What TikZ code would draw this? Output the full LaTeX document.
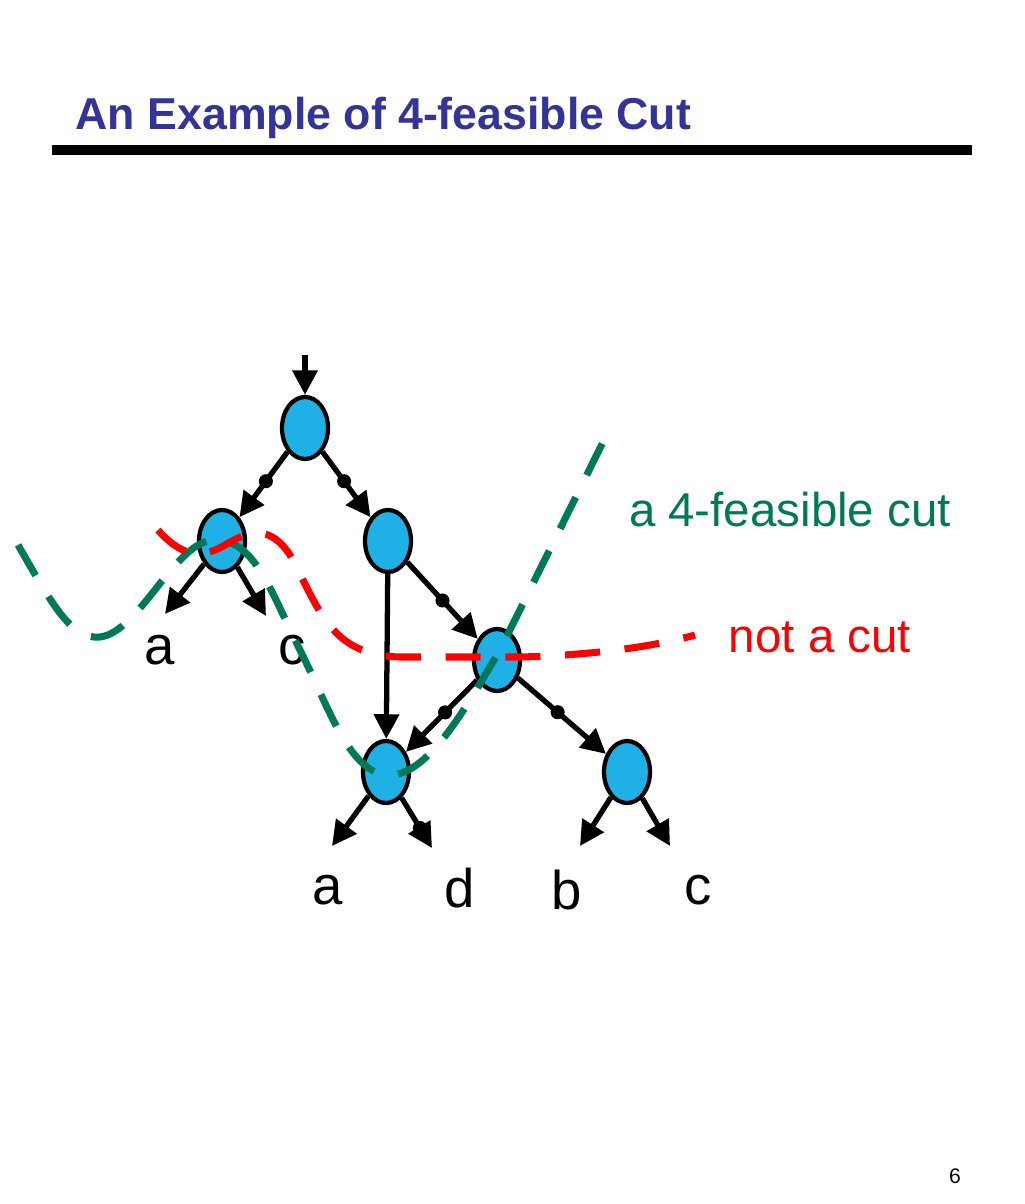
\documentclass[tikz,border=0pt]{standalone}
\usepackage{fontspec}
\setmainfont{Liberation Sans}
\usetikzlibrary{shapes.geometric,arrows.meta}
\definecolor{nodeblue}{HTML}{1FB0E6}
\definecolor{cutgreen}{HTML}{00795A}
\definecolor{titleblue}{HTML}{333399}
\begin{document}
\begin{tikzpicture}[x=0.01cm,y=-0.01cm,
  gate/.style={ellipse,draw=black,line width=1.2pt,fill=nodeblue,minimum width=0.46cm,minimum height=0.62cm,inner sep=0pt},
  edge/.style={line width=1.5pt,-{Triangle[length=7pt,width=7pt]}},
  dotmark/.style={circle,fill=black,inner sep=0pt,minimum size=4pt},
  lbl/.style={font=\fontsize{15.5}{18}\selectfont},
  cut/.style={line width=2pt,dash pattern=on 10pt off 7pt}]
\useasboundingbox (0,0) rectangle (1024,1204);
\node[anchor=base west,inner sep=0pt,font=\bfseries\fontsize{12.7}{15}\selectfont,text=titleblue] (title) at (75,130) {An Example of 4-feasible Cut};
\draw[line width=3pt] (52,150) -- (972,150);
\node[font=\fontsize{6}{7}\selectfont] (pg) at (955,1176) {6};

\node[gate] (n1) at (305,428) {};
\node[gate] (n2) at (222,541) {};
\node[gate] (n3) at (388,541) {};
\node[gate] (n4) at (497,660) {};
\node[gate] (n5) at (386,772) {};
\node[gate] (n6) at (627,772) {};
\coordinate (top) at (305,355);
\coordinate (l1) at (165,614);
\coordinate (l2) at (266,616);
\coordinate (l3) at (332,846);
\coordinate (l4) at (432,848);
\coordinate (l5) at (580,846);
\coordinate (l6) at (670,846);

\draw[edge] (top) -- (n1);
\draw[edge] (n1) -- (n2) node[dotmark,pos=0.45]{};
\draw[edge] (n1) -- (n3) node[dotmark,pos=0.45]{};
\draw[edge] (n2) -- (l1);
\draw[edge] (n2) -- (l2);
\draw[edge] (n3) -- (n5);
\draw[edge] (n3) -- (n4) node[dotmark,pos=0.5]{};
\draw[edge] (n4) -- (n5) node[dotmark,pos=0.45]{};
\draw[edge] (n4) -- (n6) node[dotmark,pos=0.45]{};
\draw[edge] (n5) -- (l3);
\draw[edge] (n5) -- (l4) node[dotmark,pos=0.6]{};
\draw[edge] (n6) -- (l5);
\draw[edge] (n6) -- (l6);

\node[lbl] (ta) at (160,650) {a};
\node[lbl] (tc) at (292,650) {c};
\node[lbl] (ba) at (328,890) {a};
\node[lbl] (bd) at (460,888) {d};
\node[lbl] (bb) at (567,890) {b};
\node[lbl] (bc) at (698,890) {c};

\draw[cut,cutgreen] (18,545) .. controls (50,600) and (70,640) .. (100,637)
  .. controls (140,632) and (175,540) .. (215,540)
  .. controls (255,540) and (270,590) .. (300,650)
  .. controls (330,710) and (350,775) .. (390,775)
  .. controls (430,775) and (470,700) .. (500,650)
  -- (610,428);
\draw[cut,red] (158,530) .. controls (180,555) and (200,560) .. (225,545)
  .. controls (250,530) and (270,525) .. (290,555)
  .. controls (320,610) and (330,655) .. (400,657)
  -- (520,657) .. controls (600,655) and (660,645) .. (695,635);

\node[text=cutgreen,font=\fontsize{13.5}{16}\selectfont] (gl) at (790,510) {a 4-feasible cut};
\node[text=red,font=\fontsize{13.5}{16}\selectfont] (rl) at (820,637) {not a cut};
\end{tikzpicture}
\end{document}
